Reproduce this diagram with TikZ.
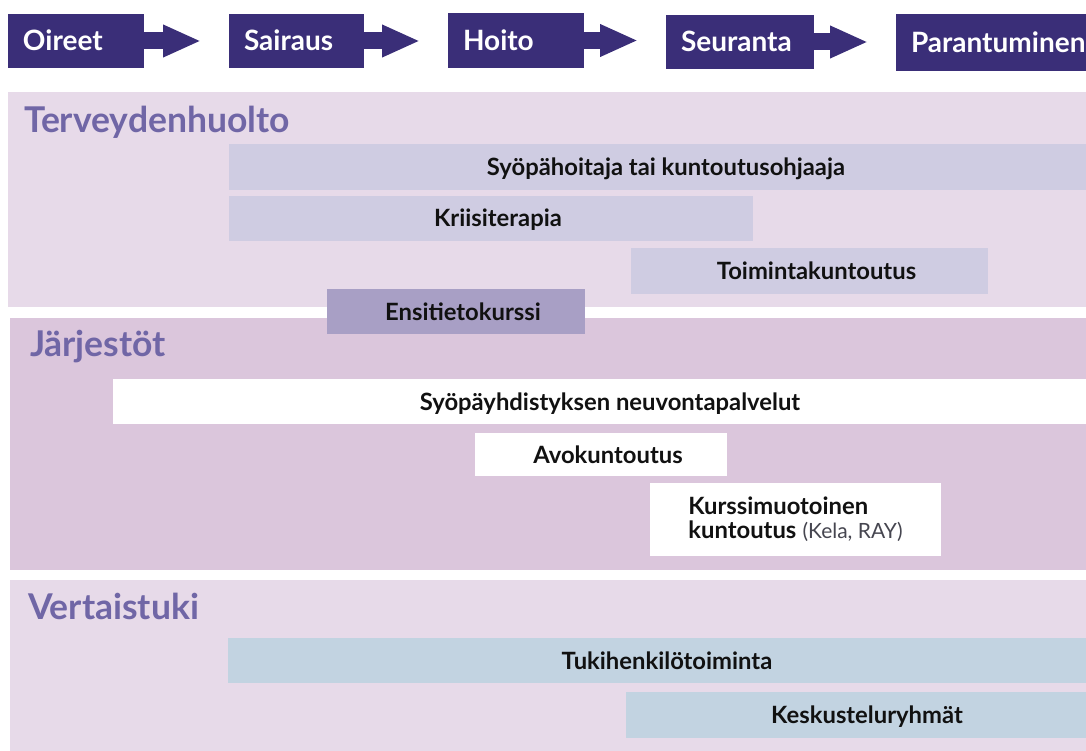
\documentclass[tikz,border=0pt]{standalone}
\usepackage{fontspec}
\setmainfont{Lato}
\usetikzlibrary{arrows.meta}
\definecolor{boxdark}{RGB}{58,46,120}
\definecolor{bandlight}{RGB}{231,218,233}
\definecolor{bandmid}{RGB}{219,198,220}
\definecolor{barlav}{RGB}{207,204,226}
\definecolor{barensi}{RGB}{168,159,197}
\definecolor{barblue}{RGB}{194,211,225}
\definecolor{headcol}{RGB}{112,102,166}
\definecolor{thingray}{RGB}{70,70,80}
\definecolor{bartext}{RGB}{17,17,17}
\begin{document}
\begin{tikzpicture}[x=1pt,y=-1pt,
  every node/.style={outer sep=0pt, inner sep=0pt},
  stage/.style={fill=boxdark, text=white, anchor=north west,
    font=\fontsize{28}{32}\selectfont\bfseries, inner xsep=15pt,
    text width=#1, align=left, text height=20pt, text depth=0pt},
  flow/.style={boxdark, line width=17pt, -{Triangle[length=38pt,width=30pt]}, shorten >=28pt},
  band/.style={fill=#1, anchor=north west},
  heading/.style={anchor=base west, text=headcol, font=\fontsize{35.5}{40}\selectfont\bfseries},
  bar/.style={fill=#1, anchor=north west, text=bartext,
    font=\fontsize{23.8}{28}\selectfont\bfseries, text height=17pt, text depth=0pt,
    execute at begin node={\hspace*{14pt}}},
  textbar/.style={fill=#1, anchor=north west, text=bartext,
    font=\fontsize{23.8}{24}\selectfont, align=left}
]
\useasboundingbox (0,0) rectangle (1086,751);

% stages
\node[stage=106pt, minimum height=54pt] (oireet) at (8,14) {Oireet};
\node[stage=105pt, minimum height=54pt] (sairaus) at (229,14) {Sairaus};
\node[stage=106pt, minimum height=55pt] (hoito) at (448,13) {Hoito};
\node[stage=118pt, minimum height=54pt] (seuranta) at (666,15) {Seuranta};
\node[stage=200pt, minimum height=57pt] (parant) at (896,14) {Parantuminen};

\draw[flow] (oireet.east) -- (oireet.east -| sairaus.west);
\draw[flow] (sairaus.east) -- (sairaus.east -| hoito.west);
\draw[flow] (hoito.east) -- (hoito.east -| seuranta.west);
\draw[flow] (seuranta.east) -- (seuranta.east -| parant.west);

% bands
\node[band=bandlight, minimum width=1078pt, minimum height=215pt] (terv) at (8,92) {};
\node[band=bandmid, minimum width=1076pt, minimum height=252pt] (jarj) at (10,318) {};
\node[band=bandlight, minimum width=1076pt, minimum height=171pt] (vert) at (10,580) {};

\node[heading] (hterv) at (24,133) {Terveydenhuolto};
\node[heading] (hjarj) at (30,356) {Järjestöt};
\node[heading] (hvert) at (28,619) {Vertaistuki};

% Terveydenhuolto bars
\node[bar=barlav, minimum width=860pt, minimum height=46pt] (syo) at (229,144) {Syöpähoitaja tai kuntoutusohjaaja};
\node[bar=barlav, minimum width=524pt, minimum height=45pt] (kriisi) at (229,196) {Kriisiterapia};
\node[bar=barlav, minimum width=357pt, minimum height=46pt] (toim) at (631,248) {Toimintakuntoutus};
\node[bar=barensi, minimum width=258pt, minimum height=45pt] (ensi) at (327,289) {Ensitietokurssi};

% Järjestöt bars
\node[bar=white, minimum width=980pt, minimum height=45pt] (neuvonta) at (113,379) {Syöpäyhdistyksen neuvontapalvelut};
\node[bar=white, minimum width=252pt, minimum height=43pt] (avo) at (475,433) {Avokuntoutus};
\node[textbar=white, minimum width=291pt, minimum height=73pt] (kurssi) at (650,483)
  {\textbf{Kurssimuotoinen}\\\textbf{kuntoutus} {\fontsize{21}{24}\selectfont\color{thingray}(Kela, RAY)}};

% Vertaistuki bars
\node[bar=barblue, minimum width=864pt, minimum height=45pt] (tuki) at (228,638) {Tukihenkilötoiminta};
\node[bar=barblue, minimum width=468pt, minimum height=46pt] (kesk) at (626,692) {Keskusteluryhmät};
\end{tikzpicture}
\end{document}
